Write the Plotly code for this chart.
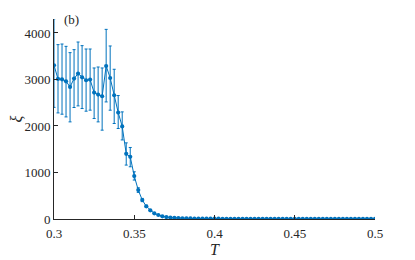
import plotly.graph_objects as go

T = [0.3, 0.3025, 0.305, 0.3075, 0.31, 0.3125, 0.315, 0.3175, 0.32, 0.3225,
     0.325, 0.3275, 0.33, 0.3325, 0.335, 0.3375, 0.34, 0.3425, 0.345, 0.3475,
     0.35, 0.3525, 0.355, 0.3575, 0.36, 0.3625, 0.365, 0.3675, 0.37, 0.3725,
     0.375, 0.3775, 0.38, 0.3825, 0.385, 0.3875, 0.39, 0.3925, 0.395, 0.3975,
     0.4, 0.4025, 0.405, 0.4075, 0.41, 0.4125, 0.415, 0.4175, 0.42, 0.4225,
     0.425, 0.4275, 0.43, 0.4325, 0.435, 0.4375, 0.44, 0.4425, 0.445, 0.4475,
     0.45, 0.4525, 0.455, 0.4575, 0.46, 0.4625, 0.465, 0.4675, 0.47, 0.4725,
     0.475, 0.4775, 0.48, 0.4825, 0.485, 0.4875, 0.49, 0.4925, 0.495, 0.4975,
     0.5]

xi = [3305, 3011, 3004, 2961, 2839, 3019, 3126, 3047, 2983, 2997,
      2718, 2675, 2639, 3290, 3032, 2661, 2289, 1990, 1401, 1337,
      923, 622, 408, 272, 186, 122, 86, 57, 43, 32,
      25, 20, 16, 14, 12, 10, 9, 8, 7, 7,
      6, 6, 5, 5, 5, 4, 4, 4, 4, 3,
      3, 3, 3, 3, 3, 2, 2, 2, 2, 2,
      2, 2, 2, 2, 2, 2, 2, 1, 1, 1,
      1, 1, 1, 1, 1, 1, 1, 1, 1, 1,
      1]

err_plus = [1000, 738, 758, 751, 738, 622, 679, 680, 672, 658,
            529, 593, 608, 787, 688, 558, 365, 313, 236, 201,
            92, 50, 35, 25, 18, 12, 8, 6, 4, 3,
            3, 2, 2, 2, 1, 1, 1, 1, 1, 1] + [0] * 41
err_minus = [905, 730, 751, 766, 751, 622, 694, 672, 665, 657,
             558, 587, 729, 773, 693, 608, 343, 290, 242, 214,
             86, 50, 35, 25, 18, 12, 8, 6, 4, 3,
             3, 2, 2, 2, 1, 1, 1, 1, 1, 1] + [0] * 41

blue = "rgb(0,114,189)"
font = "Liberation Serif"
ink = "#262626"

fig = go.Figure()
fig.add_trace(go.Scatter(
    x=T, y=xi, mode="lines+markers",
    line=dict(color=blue, width=1),
    marker=dict(color=blue, size=4.2),
    error_y=dict(type="data", symmetric=False, array=err_plus,
                 arrayminus=err_minus, color=blue, thickness=1, width=1.5),
))

# page body has an 8px default margin, so the figure is sized/offset to compensate
fig.update_layout(
    width=407, height=252,
    margin=dict(l=46, r=40, t=11, b=41),
    paper_bgcolor="white", plot_bgcolor="white",
    showlegend=False,
    font=dict(family=font, size=13, color=ink),
    annotations=[dict(text="(b)", x=0.025, y=1.0, xref="paper", yref="paper",
                      xanchor="left", yanchor="middle", showarrow=False,
                      font=dict(family=font, size=13, color=ink))],
)
fig.update_xaxes(
    range=[0.3, 0.5], tickvals=[0.3, 0.35, 0.4, 0.45, 0.5],
    ticktext=["0.3", "0.35", "0.4", "0.45", "0.5"],
    tickfont=dict(family=font, size=13, color=ink),
    ticks="inside", ticklen=4, tickcolor=ink, ticklabelstandoff=2,
    showline=True, linecolor=ink, linewidth=1,
    showgrid=False, zeroline=False, automargin=False,
    title=dict(text="<i>T</i>", font=dict(family=font, size=16, color=ink), standoff=0),
)
fig.update_yaxes(
    range=[0, 4300], tickvals=[0, 1000, 2000, 3000, 4000],
    tickfont=dict(family=font, size=13, color=ink),
    ticks="inside", ticklen=4, tickcolor=ink,
    showline=True, linecolor=ink, linewidth=1,
    showgrid=False, zeroline=False, automargin=False,
    title=dict(text="<i>ξ</i>", font=dict(family=font, size=16, color=ink), standoff=8),
)

fig.write_html("out.html")
